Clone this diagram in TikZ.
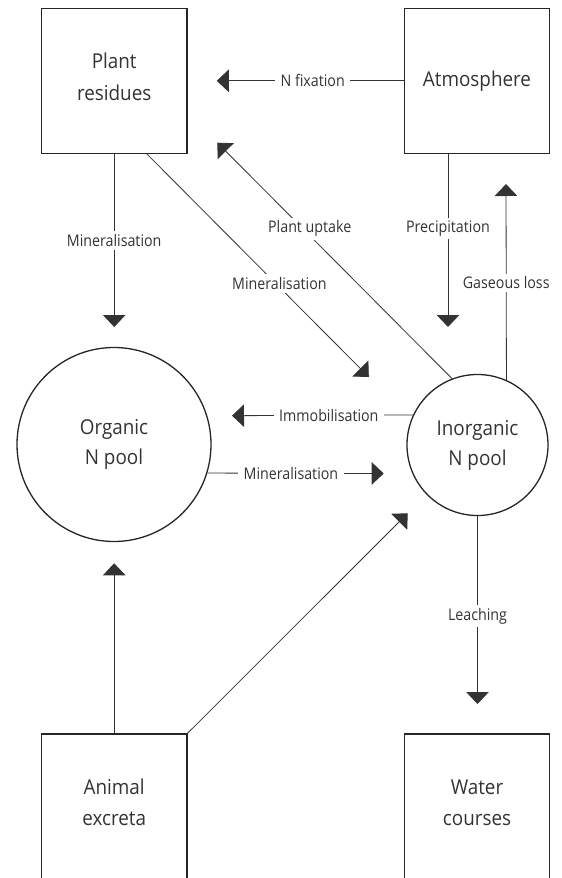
\documentclass[tikz,border=0pt]{standalone}
\usepackage{fontspec}
\setmainfont{Open Sans}
\newfontfamily\boxfont[FakeStretch=0.92]{Open Sans}
\newfontfamily\lblfont[FakeStretch=0.89]{Open Sans}
\usetikzlibrary{arrows.meta,calc}
\begin{document}
\begin{tikzpicture}[x=1pt,y=-1pt,
  box/.style={draw=black!85, line width=1.4pt, minimum width=145.2pt, minimum height=145pt,
    inner sep=0pt, align=center, font=\boxfont\fontsize{20.5}{31.4}\selectfont, text=black!80},
  twoline/.style={text depth=8pt},
  pool/.style={circle, draw=black!85, line width=1.3pt, inner sep=0pt, align=center,
    font=\boxfont\fontsize{20.5}{30}\selectfont, text=black!80},
  conn/.style={draw=black!80, line width=0.8pt, -{Triangle[width=22.5pt,length=12pt]}},
  lbl/.style={fill=white, inner xsep=5.5pt, inner ysep=3pt,
    font=\lblfont\fontsize{16}{18}\selectfont, text=black!80}
]
\useasboundingbox (0,0) rectangle (562,878);

% nodes
\node[box,twoline] (plant) at (114.2,80.8) {Plant\\residues};
\node[box] (atm) at (477,80.8) {Atmosphere};
\node[box,twoline] (animal) at (114.2,806.5) {Animal\\excreta};
\node[box,twoline] (water) at (477,806.5) {Water\\courses};
\node[pool, minimum size=194pt] (org) at (114,444.5) {Organic\\N pool};
\node[pool, minimum size=141pt] (inorg) at (477.5,445) {Inorganic\\N pool};

% arrow tips
\coordinate (tN) at (216.8,80.8);
\coordinate (tPM) at (114.2,327);
\coordinate (tDM) at (368.8,377);
\coordinate (tPU) at (217.3,142.7);
\coordinate (tPr) at (448,327);
\coordinate (tG) at (506,184);
\coordinate (tI) at (232,415.7);
\coordinate (tM) at (383.7,473.5);
\coordinate (tAO) at (114.2,563.3);
\coordinate (tAI) at (407.7,513.3);
\coordinate (tL) at (477.5,704);

% connectors
\draw[conn] (atm.west) -- node[lbl,pos=0.487] {N fixation} (tN);
\draw[conn] (plant.south) -- node[lbl,pos=0.5] {Mineralisation} (tPM);
\draw[conn] ($(plant.south west)!0.723!(plant.south east)$) -- node[lbl,pos=0.58,xshift=3.8pt] {Mineralisation} (tDM);
\draw[conn] (inorg.111) -- node[lbl,pos=0.636,xshift=7pt] {Plant uptake} (tPU);
\draw[conn] ($(atm.south)+(-29,0)$) -- node[lbl,pos=0.43] {Precipitation} (tPr);
\draw[conn] (inorg.66.2) -- node[lbl,pos=0.496] {Gaseous loss} (tG);
\draw[conn] (inorg.155.4) -- node[lbl,pos=0.465] {Immobilisation} (tI);
\draw[conn] (org.-17.4) -- node[lbl,pos=0.474] {Mineralisation} (tM);
\draw[conn] (animal.north) -- (tAO);
\draw[conn] (animal.north east) -- (tAI);
\draw[conn] (inorg.south) -- node[lbl,pos=0.533] {Leaching} (tL);
\end{tikzpicture}
\end{document}
